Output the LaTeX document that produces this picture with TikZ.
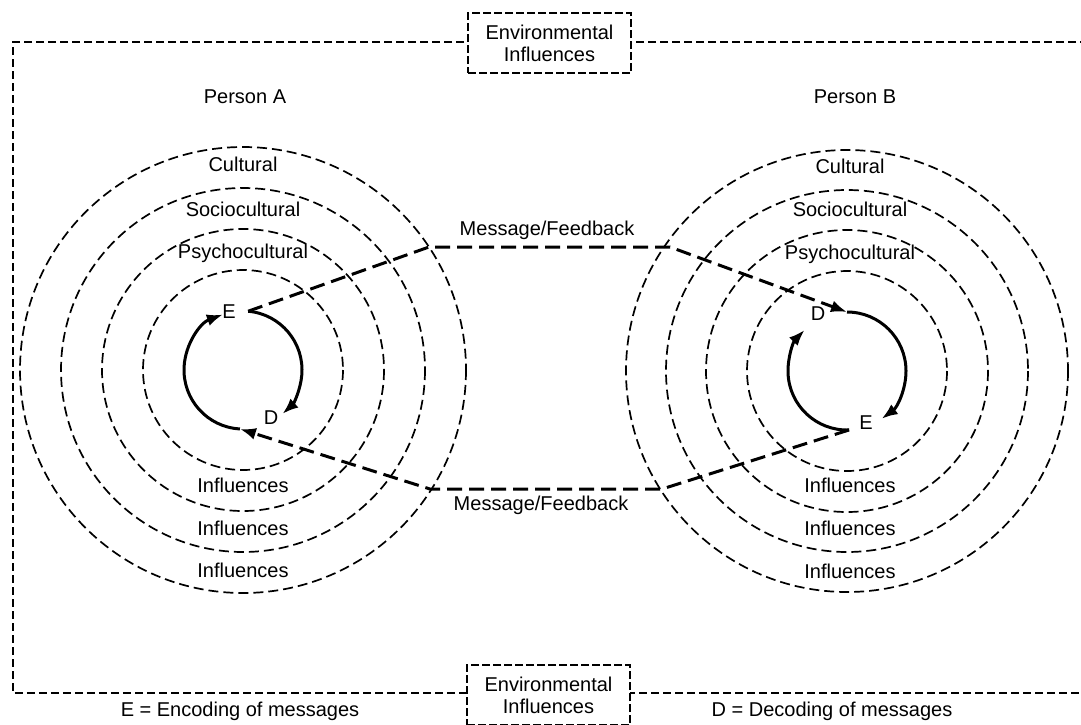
\documentclass[tikz,border=0pt]{standalone}
\usepackage{fontspec}
\setmainfont{Liberation Sans}
\usetikzlibrary{arrows.meta}
\begin{document}
\begin{tikzpicture}[x=1pt,y=-1pt,
  lbl/.style={font=\fontsize{20}{22}\selectfont, inner sep=0pt, text height=1.45ex, text depth=0.25ex},
  ring/.style={line width=1.7pt, dash pattern=on 10pt off 5pt},
  frame/.style={line width=1.8pt, dash pattern=on 8pt off 4pt},
  msg/.style={line width=3pt, dash pattern=on 15pt off 7pt},
  loop/.style={line width=3pt},
  tip/.style={-{Latex[length=16pt,width=12pt]}},
  envbox/.style={draw, fill=white, line width=1.8pt, dash pattern=on 8pt off 3pt,
    align=center, font=\fontsize{20}{22}\selectfont, inner sep=0pt,
    minimum width=163pt, minimum height=60pt}]
\useasboundingbox (0,0) rectangle (1081,724);
\clip (0,0) rectangle (1081,724);

% outer environment frame (open to the right)
\draw[frame] (1100,42) -- (13,42) -- (13,693) -- (1100,693);
\node[envbox] (envT) at (549.5,43) {Environmental\\Influences};
\node[envbox] (envB) at (548.5,695) {Environmental\\Influences};

% centres of the two persons
\coordinate (cA) at (243,370);
\coordinate (cB) at (847,371);

% influence rings
\foreach \r in {100,141,182,223} \draw[ring] (cA) circle[radius=\r];
\foreach \r in {100,141,181,221} \draw[ring] (cB) circle[radius=\r];

% ring labels, person A
\node[lbl] (pA)  at (245,100) {Person A};
\node[lbl] (cuA) at (243,168) {Cultural};
\node[lbl] (soA) at (243,213) {Sociocultural};
\node[lbl] (psA) at (243,255) {Psychocultural};
\node[lbl] (i1A) at (243,489) {Influences};
\node[lbl] (i2A) at (243,532) {Influences};
\node[lbl] (i3A) at (243,574) {Influences};

% ring labels, person B
\node[lbl] (pB)  at (855,100) {Person B};
\node[lbl] (cuB) at (850,170) {Cultural};
\node[lbl] (soB) at (850,213) {Sociocultural};
\node[lbl] (psB) at (850,256) {Psychocultural};
\node[lbl] (i1B) at (850,489) {Influences};
\node[lbl] (i2B) at (850,532) {Influences};
\node[lbl] (i3B) at (850,575) {Influences};

% encode/decode points on the inner loops
\path (cA) ++(-85:59) coordinate (EA);
\path (cA) ++(93:59)  coordinate (DA);
\path (cB) ++(-90:59) coordinate (DB);
\path (cB) ++(88:59)  coordinate (EB);

% inner loops
\draw[loop,tip] (EA) arc[start angle=-85, end angle=48, radius=59];
\draw[loop,tip] (DA) arc[start angle=93, end angle=250, radius=59];
\draw[loop,tip] (DB) arc[start angle=-90, end angle=54, radius=59];
\draw[loop,tip] (EB) arc[start angle=88, end angle=224, radius=59];

\node[lbl] (eA) at (229,315) {E};
\node[lbl] (dA) at (271,421) {D};
\node[lbl] (dB) at (818,317) {D};
\node[lbl] (eB) at (866,426) {E};

% message / feedback channels
\coordinate (m1) at (429,247);
\coordinate (m2) at (670,247);
\coordinate (m3) at (662,489);
\coordinate (m4) at (430,489);
\draw[msg,tip] (EA) -- (m1) -- (m2) -- (DB);
\draw[msg,tip] (EB) -- (m3) -- (m4) -- (DA);
\node[lbl] (mfT) at (547,232) {Message/Feedback};
\node[lbl] (mfB) at (541,507) {Message/Feedback};

% legend
\node[lbl] (legE) at (240,713) {E = Encoding of messages};
\node[lbl] (legD) at (832,713) {D = Decoding of messages};
\end{tikzpicture}
\end{document}
